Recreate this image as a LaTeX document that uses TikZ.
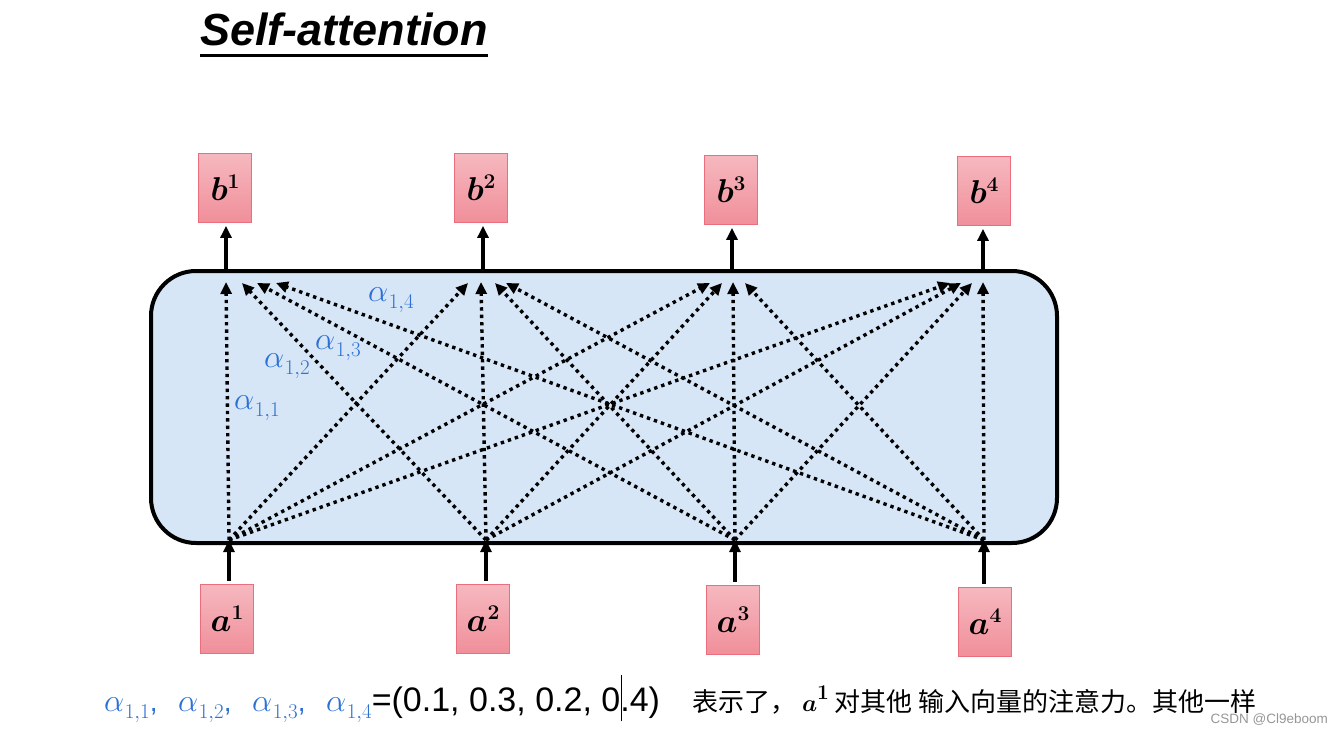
\RequirePackage{fix-cm}
\documentclass[tikz,border=0pt]{standalone}
\usepackage{amsmath,bm}
\usepackage{fontspec}
\setmainfont{Liberation Sans}
\newfontfamily\cjk{Noto Sans CJK SC}
\usetikzlibrary{arrows.meta}
\definecolor{pinktop}{RGB}{246,184,191}
\definecolor{pinkbot}{RGB}{240,143,154}
\definecolor{boxline}{RGB}{234,110,126}
\definecolor{panel}{RGB}{214,230,246}
\definecolor{alphablue}{RGB}{45,112,212}
\definecolor{wmgray}{RGB}{150,150,150}
\newcommand\alp[2]{{\fontsize{32}{34}\selectfont$\alpha$}\kern0.5pt\raisebox{-7pt}{\fontsize{21}{22}\selectfont$#1{,}#2$}}
\newcommand\vecl[2]{$\bm{#1}$\raisebox{12pt}{\fontsize{21}{22}\selectfont$\bm{#2}$}}
\tikzset{
  vecbox/.style={draw=boxline, line width=0.8pt, top color=pinktop, bottom color=pinkbot,
    minimum width=53pt, minimum height=69pt, inner sep=0pt, font=\fontsize{33}{35}\selectfont},
  att/.style={line width=3.4pt, dash pattern=on 3.4pt off 4pt, -{Triangle[length=12pt,width=11pt]}},
  solidarr/.style={line width=3.5pt, -{Triangle[length=12pt,width=11pt]}},
  alab/.style={text=alphablue, inner sep=0pt},
}
\begin{document}
\begin{tikzpicture}[x=1pt,y=-1pt]
\useasboundingbox (0,0) rectangle (1342,733);
% title
\node[anchor=base west, inner sep=0pt, font=\fontsize{45}{50}\selectfont\bfseries\itshape] (title) at (200,46) {Self-attention};
\draw[line width=3pt] (title.base west) ++(0,10) coordinate (ul1) -- (ul1 -| title.base east);
% panel
\draw[line width=4pt, fill=panel, rounded corners=45pt] (151,271) rectangle (1057,543);
% boxes
\node[vecbox] (b1) at (225,188) {\vecl{b}{1}};
\node[vecbox] (b2) at (481,188) {\vecl{b}{2}};
\node[vecbox] (b3) at (731,190) {\vecl{b}{3}};
\node[vecbox] (b4) at (984,191) {\vecl{b}{4}};
\node[vecbox] (a1) at (227,619) {\vecl{a}{1}};
\node[vecbox] (a2) at (483,619) {\vecl{a}{2}};
\node[vecbox] (a3) at (733,620) {\vecl{a}{3}};
\node[vecbox] (a4) at (985,622) {\vecl{a}{4}};
% points
\coordinate (p1) at (229,540); \coordinate (p2) at (486,540);
\coordinate (p3) at (735,540); \coordinate (p4) at (984,540);
\coordinate (q1) at (226,271); \coordinate (q2) at (483,271);
\coordinate (q3) at (732,271); \coordinate (q4) at (983,271);
\coordinate (t11) at (226,282); \coordinate (t12) at (242,283); \coordinate (t13) at (257,283); \coordinate (t14) at (276,283);
\coordinate (t21) at (468,283); \coordinate (t22) at (481,282); \coordinate (t23) at (495,283); \coordinate (t24) at (506,283);
\coordinate (t31) at (710,283); \coordinate (t32) at (722,283); \coordinate (t33) at (733,282); \coordinate (t34) at (745,283);
\coordinate (t41) at (950,283); \coordinate (t42) at (961,283); \coordinate (t43) at (972,283); \coordinate (t44) at (983,282);
% attention connectors
\foreach \i in {1,...,4}{\foreach \j in {1,...,4}{\draw[att] (p\j) -- (t\i\j);}}
% solid arrows
\foreach \k in {1,...,4}{
  \draw[solidarr, shorten >=3pt] (q\k) -- (q\k |- b\k.south);
  \draw[solidarr, shorten <=3pt] (p\k |- a\k.north) -- (p\k);
}
% alpha labels
\node[alab] (l11) at (257,408) {\alp{1}{1}};
\node[alab] (l12) at (287,366) {\alp{1}{2}};
\node[alab] (l13) at (338,348) {\alp{1}{3}};
\node[alab] (l14) at (391,300) {\alp{1}{4}};
% bottom text
\node[anchor=base west, inner sep=0pt] (eq) at (104,711) {{\color{alphablue}\makebox[74pt][l]{\alp{1}{1}\fontsize{28}{30}\selectfont,}\makebox[74pt][l]{\alp{1}{2}\fontsize{28}{30}\selectfont,}\makebox[74pt][l]{\alp{1}{3}\fontsize{28}{30}\selectfont,}\alp{1}{4}}{\fontsize{34}{36}\selectfont=(0.1, 0.3, 0.2, 0\rlap{\kern0.5pt\rule[-10pt]{0.8pt}{46pt}}.4)}};
\node[anchor=base west, inner sep=0pt, font=\cjk\fontsize{26}{28}\selectfont] (note) at (692,711) {表示了，\ {\fontsize{24}{26}\selectfont\vecl{a}{1}}\ 对其他 输入向量的注意力。其他一样};
\node[anchor=base east, inner sep=0pt, text=wmgray, font=\fontsize{13.5}{15}\selectfont] (wm) at (1328,723) {CSDN @Cl9eboom};
\end{tikzpicture}
\end{document}
